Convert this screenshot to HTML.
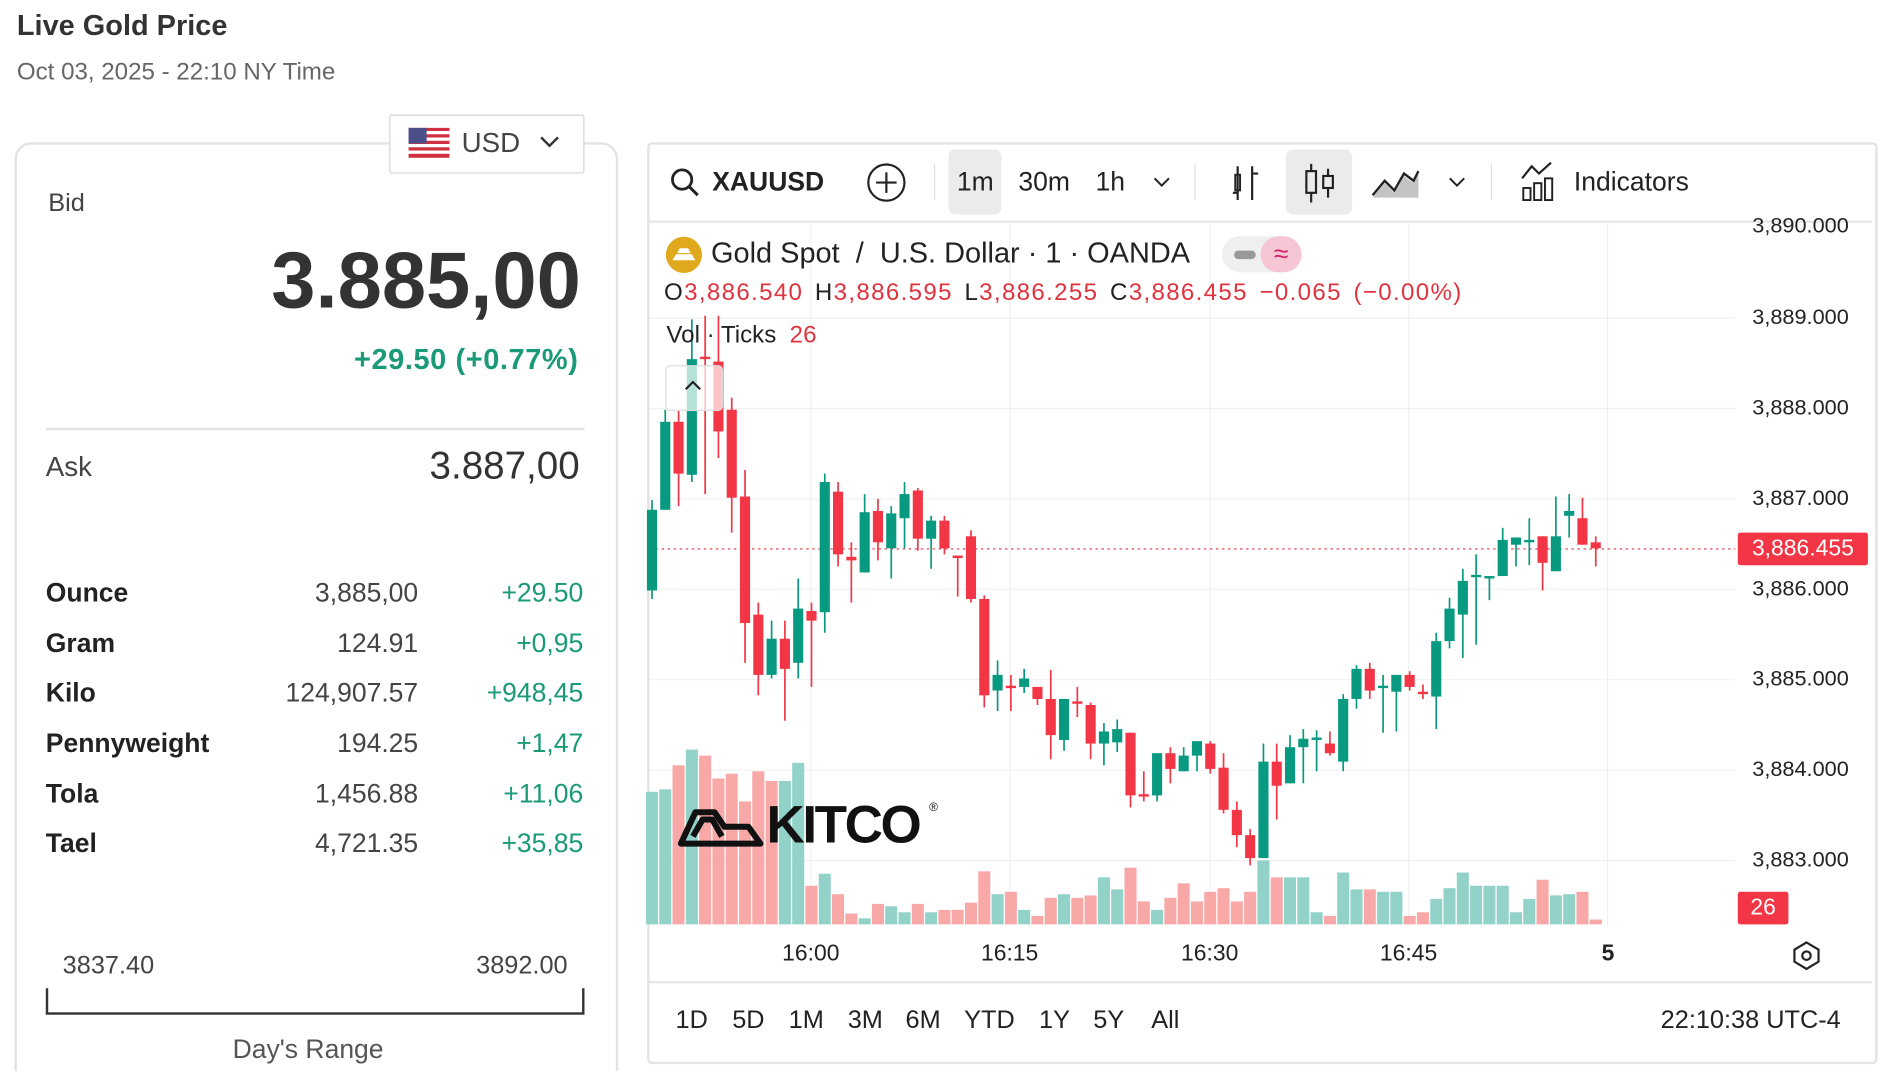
<!DOCTYPE html>
<html><head><meta charset="utf-8"><style>
html,body{margin:0;padding:0;background:#fff;width:1880px;height:1071px;overflow:hidden}
#w{position:absolute;left:0;top:0;width:1560px;height:889px;overflow:hidden;transform:scale(1.20513);transform-origin:0 0;font-family:"Liberation Sans",sans-serif;color:#333}
.a{position:absolute;white-space:nowrap}
.r{text-align:right}
.g{color:#1a9a78}
.row{font-size:22px;height:30px}
</style></head><body><div id="w">
<div class="a" style="left:14px;top:8px;font-size:24px;font-weight:bold;color:#333">Live Gold Price</div>
<div class="a" style="left:14px;top:49px;font-size:20px;color:#666">Oct 03, 2025 - 22:10 NY Time</div>
<div class="a" style="left:12px;top:118px;width:497px;height:800px;border:2px solid #e3e3e3;border-radius:14px"></div>
<div class="a" style="left:323px;top:95px;width:160px;height:47px;border:1.5px solid #d6d6d6;border-radius:2px;background:#fff"></div>
<svg class="a" style="left:339px;top:106px" width="34" height="25"><rect width="34" height="25" fill="#fff"/><g fill="#d03040"><rect y="0" width="34" height="2.7"/><rect y="5.4" width="34" height="2.7"/><rect y="10.8" width="34" height="2.7"/><rect y="16.2" width="34" height="2.7"/><rect y="21.6" width="34" height="3.4"/></g><rect width="15" height="13" fill="#4a4f8a"/></svg>
<div class="a" style="left:383px;top:105px;font-size:23px;color:#444">USD</div>
<svg class="a" style="left:447px;top:112px" width="18" height="12"><path d="M2 2l7 7 7-7" stroke="#333" stroke-width="2" fill="none"/></svg>
<div class="a" style="left:40px;top:157px;font-size:21px;color:#444">Bid</div>
<div class="a r" style="right:1078px;top:194px;font-size:66px;font-weight:bold;color:#333">3.885,00</div>
<div class="a r g" style="right:1080px;top:285px;font-size:24px;font-weight:bold;letter-spacing:0.5px">+29.50 (+0.77%)</div>
<div class="a" style="left:38px;top:355px;width:447px;height:2px;background:#e3e3e3"></div>
<div class="a" style="left:38px;top:374px;font-size:23px;color:#444">Ask</div>
<div class="a r" style="right:1079px;top:368px;font-size:32px;color:#333">3.887,00</div>
<div id="tbl"></div>
<div class="a" style="left:52px;top:790px;font-size:21px;color:#444">3837.40</div>
<div class="a r" style="right:1089px;top:790px;font-size:21px;color:#444">3892.00</div>
<div class="a" style="left:38px;top:840px;width:447px;height:2px;background:#333"></div>
<div class="a" style="left:38px;top:820px;width:2px;height:21px;background:#333"></div>
<div class="a" style="left:483px;top:820px;width:2px;height:21px;background:#333"></div>
<div class="a" style="left:193px;top:858px;font-size:22px;color:#555">Day's Range</div>

<div class="a" style="left:537px;top:118px;width:1017px;height:761px;border:2px solid #e3e3e3;border-radius:4px"></div>
<svg class="a" style="left:556px;top:139px" width="26" height="26"><circle cx="10" cy="10" r="8" stroke="#222" stroke-width="2.3" fill="none"/><path d="M16 16l7 7" stroke="#222" stroke-width="2.5"/></svg>
<div class="a" style="left:591px;top:138px;font-size:22px;font-weight:bold;color:#222">XAUUSD</div>
<svg class="a" style="left:719px;top:135px" width="33" height="33"><circle cx="16.5" cy="16.5" r="15" stroke="#222" stroke-width="1.8" fill="none"/><path d="M16.5 8v17M8 16.5h17" stroke="#222" stroke-width="1.8"/></svg>
<div class="a" style="left:775px;top:136px;width:1px;height:30px;background:#e0e0e0"></div>
<div class="a" style="left:787px;top:124px;width:44px;height:54px;background:#ebebeb;border-radius:6px"></div>
<div class="a" style="left:794px;top:138px;font-size:22px;color:#222">1m</div>
<div class="a" style="left:845px;top:138px;font-size:22px;color:#222">30m</div>
<div class="a" style="left:909px;top:138px;font-size:22px;color:#222">1h</div>
<svg class="a" style="left:956px;top:145px" width="16" height="12"><path d="M2 3l6 6 6-6" stroke="#222" stroke-width="1.6" fill="none"/></svg>
<div class="a" style="left:991px;top:136px;width:1px;height:30px;background:#e0e0e0"></div>
<svg class="a" style="left:1018px;top:136px" width="28" height="32"><path d="M9 2v28M21 2v28" stroke="#222" stroke-width="1.8" fill="none"/><path d="M5 24h4M21 8h5" stroke="#222" stroke-width="1.8"/><rect x="7" y="9" width="4" height="13" fill="none" stroke="#222" stroke-width="1.6"/></svg>
<div class="a" style="left:1067px;top:124px;width:55px;height:54px;background:#ebebeb;border-radius:6px"></div>
<svg class="a" style="left:1080px;top:134px" width="30" height="36"><path d="M8 2v32M22 6v24" stroke="#222" stroke-width="1.8"/><rect x="4" y="8" width="8" height="18" fill="#ebebeb" stroke="#222" stroke-width="1.8"/><rect x="18" y="12" width="8" height="10" fill="#ebebeb" stroke="#222" stroke-width="1.8"/></svg>
<svg class="a" style="left:1137px;top:136px" width="42" height="30"><path d="M2 26l10-12 8 8 8-14 8 6 4-8" stroke="#222" stroke-width="2" fill="none"/><path d="M2 28l10-12 8 8 8-14 8 6 4-8V28z" fill="#888" opacity=".5"/></svg>
<svg class="a" style="left:1201px;top:145px" width="16" height="12"><path d="M2 3l6 6 6-6" stroke="#222" stroke-width="1.6" fill="none"/></svg>
<div class="a" style="left:1237px;top:136px;width:1px;height:30px;background:#e0e0e0"></div>
<svg class="a" style="left:1261px;top:134px" width="32" height="34"><path d="M2 14l8-10 6 6 10-9" stroke="#222" stroke-width="1.8" fill="none"/><rect x="3" y="22" width="6" height="10" fill="none" stroke="#222" stroke-width="1.6"/><rect x="12" y="18" width="6" height="14" fill="none" stroke="#222" stroke-width="1.6"/><rect x="21" y="14" width="6" height="18" fill="none" stroke="#222" stroke-width="1.6"/></svg>
<div class="a" style="left:1306px;top:138px;font-size:22px;color:#222">Indicators</div>
<div class="a" style="left:539px;top:183px;width:1014px;height:2px;background:#e8e8e8"></div>

<svg class="a" id="ch" style="left:0;top:0" width="1560" height="889"></svg>

<svg class="a" style="left:552px;top:196px" width="31" height="31"><circle cx="15.5" cy="15.5" r="15" fill="#e0a81c"/><path d="M6 20h19l-3-5H9zM10 14h11l-2-4h-7z" fill="#fff"/></svg>
<div class="a" style="left:590px;top:197px;font-size:24px;color:#222">Gold Spot&nbsp; / &nbsp;U.S. Dollar · 1 · OANDA</div>
<div class="a" style="left:1014px;top:196px;width:66px;height:30px;background:#efefef;border-radius:15px"></div>
<div class="a" style="left:1024px;top:208px;width:18px;height:7px;background:#999;border-radius:4px"></div>
<div class="a" style="left:1046px;top:196px;width:34px;height:30px;background:#f6c6d5;border-radius:15px;color:#d0246a;font-size:22px;text-align:center;line-height:30px">≈</div>
<div class="a" style="left:551px;top:232px;font-size:20px;color:#222;letter-spacing:1.1px;word-spacing:3px">O<span style="color:#e0333f">3,886.540</span> H<span style="color:#e0333f">3,886.595</span> L<span style="color:#e0333f">3,886.255</span> C<span style="color:#e0333f">3,886.455</span> <span style="color:#e0333f">−0.065 (−0.00%)</span></div>
<div class="a" style="left:553px;top:267px;font-size:20px;color:#222">Vol · Ticks &nbsp;<span style="color:#e0333f">26</span></div>
<div class="a" style="left:552px;top:303px;width:46px;height:36px;border:1px solid #ddd;border-radius:4px;background:rgba(255,255,255,.7)"></div>
<svg class="a" style="left:566px;top:314px" width="18" height="12"><path d="M3 9l6-6 6 6" stroke="#222" stroke-width="1.8" fill="none"/></svg>
<svg class="a" style="left:561px;top:662px" width="75" height="42"><path d="M4 38h66l-10-14H40l-8-12H16L4 38z M14 32l8-14h8l8 14" stroke="#111" stroke-width="5" fill="none" stroke-linejoin="round"/></svg>
<div class="a" style="left:636px;top:660px;font-size:44px;font-weight:bold;color:#111;letter-spacing:-2px">KITCO</div>
<div class="a" style="left:771px;top:665px;font-size:10px;color:#111">®</div>
<div class="a" style="left:1442px;top:442px;width:108px;height:27px;background:#f23645;border-radius:2px;color:#fff;font-size:19px;text-align:center;line-height:27px">3,886.455</div>
<div class="a" style="left:1442px;top:740px;width:42px;height:27px;background:#f23645;border-radius:2px;color:#fff;font-size:19px;text-align:center;line-height:27px">26</div>
<div id="axis"></div>
<div class="a" style="left:539px;top:814px;width:1014px;height:2px;background:#e8e8e8"></div>
<div id="rng"></div>
<div class="a" style="left:1378px;top:835px;font-size:21px;color:#222">22:10:38 UTC-4</div>
<svg class="a" style="left:1486px;top:780px" width="26" height="26"><path d="M13 2l10 6v10l-10 6-10-6V8z" fill="none" stroke="#222" stroke-width="1.8"/><circle cx="13" cy="13" r="3.5" fill="none" stroke="#222" stroke-width="1.8"/></svg>
</div>
<script>
var h='';
var rows=[["Ounce","3,885,00","+29.50",493],["Gram","124.91","+0,95",535],["Kilo","124,907.57","+948,45",576],["Pennyweight","194.25","+1,47",618],["Tola","1,456.88","+11,06",660],["Tael","4,721.35","+35,85",701]];
rows.forEach(function(r){var t=r[3]-14;h+='<div class="a row" style="left:38px;top:'+t+'px;font-weight:bold;color:#222">'+r[0]+'</div><div class="a row r" style="right:1213px;top:'+t+'px;color:#444">'+r[1]+'</div><div class="a row r g" style="right:1076px;top:'+t+'px">'+r[2]+'</div>';});
document.getElementById('tbl').innerHTML=h;
var ax='';
[[188,"3,890.000"],[264,"3,889.000"],[339,"3,888.000"],[414,"3,887.000"],[489,"3,886.000"],[564,"3,885.000"],[639,"3,884.000"],[714,"3,883.000"]].forEach(function(p){ax+='<div class="a" style="left:1454px;top:'+(p[0]-11)+'px;font-size:18px;color:#222">'+p[1]+'</div>';});
[[673,"16:00"],[838,"16:15"],[1004,"16:30"],[1169,"16:45"]].forEach(function(p){ax+='<div class="a" style="left:'+(p[0]-24)+'px;top:781px;font-size:19px;color:#222">'+p[1]+'</div>';});
ax+='<div class="a" style="left:1329px;top:781px;font-size:19px;font-weight:bold;color:#222">5</div>';
document.getElementById('axis').innerHTML=ax;
var rg='';[[574,"1D"],[621,"5D"],[669,"1M"],[718,"3M"],[766,"6M"],[821,"YTD"],[875,"1Y"],[920,"5Y"],[967,"All"]].forEach(function(p){rg+='<div class="a" style="left:'+p[0]+'px;top:835px;font-size:21px;color:#222;transform:translateX(-50%)">'+p[1]+'</div>';});
document.getElementById('rng').innerHTML=rg;
var C=[[423,490,415,497,1],[350,423,340,423,1],[350,393,340,420,0],[298,394,265,400,1],[296,298,262,410,0],[300,358,262,380,0],[340,413,330,442,0],[412,517,390,550,0],[510,560,500,577,0],[530,560,515,563,1],[530,555,515,598,0],[505,550,480,563,1],[507,515,500,570,0],[400,508,393,525,1],[408,460,400,470,0],[462,465,450,500,0],[425,475,410,475,1],[424,450,414,465,0],[426,455,420,480,1],[410,430,400,455,1],[407,447,405,457,0],[432,447,428,472,1],[432,455,428,460,0],[461,463,462,495,0],[445,497,440,500,0],[497,577,494,587,0],[560,573,548,590,1],[569,571,560,590,0],[563,570,555,575,1],[570,580,570,585,0],[580,610,556,630,0],[580,614,580,623,1],[582,584,570,595,0],[585,617,583,630,0],[607,617,600,635,1],[605,616,597,624,1],[608,660,608,670,0],[659,661,640,665,0],[625,660,625,665,1],[625,638,620,650,0],[627,640,620,640,1],[615,627,615,640,1],[617,638,615,642,0],[637,672,625,675,0],[672,693,665,703,0],[693,712,688,718,0],[632,712,617,712,1],[632,652,617,680,0],[620,650,610,650,1],[613,620,605,650,1],[612,614,606,640,1],[617,625,607,627,0],[580,632,576,640,1],[555,580,552,588,1],[555,573,550,580,0],[569,571,560,608,1],[560,574,560,607,1],[560,570,557,573,0],[574,576,568,580,0],[532,578,525,605,1],[505,532,496,538,1],[482,510,472,546,1],[477,479,460,535,1],[478,480,478,498,1],[448,478,438,478,1],[446,452,446,470,1],[448,450,430,469,1],[445,467,445,490,0],[445,474,412,474,1],[424,428,410,446,1],[430,452,413,452,0],[450,455,445,470,0]];
var V=[657,655,635,622,627,646,642,665,640,648,648,633,735,725,742,758,762,750,752,757,750,757,755,755,749,723,742,740,755,760,745,742,745,743,728,738,720,748,755,745,733,748,740,737,748,740,714,728,728,728,757,760,724,738,738,740,740,760,757,746,737,724,735,735,735,757,746,730,743,742,740,763];
var vc=[1,1,0,1,0,0,0,0,0,0,1,1,0,1,0,0,1,0,1,1,0,1,0,0,0,0,1,0,1,0,0,1,0,0,1,1,0,0,1,0,0,0,0,0,0,0,1,0,1,1,1,0,1,1,0,1,1,0,0,1,1,1,1,1,1,1,1,0,1,1,0,0];
var s='';
[264,339,414,489,564,639,714].forEach(function(y){s+='<line x1="539" x2="1440" y1="'+y+'" y2="'+y+'" stroke="#f0f0f0" stroke-width="1"/>';});
[673,838,1004,1169,1334].forEach(function(x){s+='<line x1="'+x+'" x2="'+x+'" y1="185" y2="768" stroke="#f0f0f0" stroke-width="1"/>';});
for(var i=0;i<V.length;i++){var x=541+11.03*i;s+='<rect x="'+(x-5)+'" y="'+V[i]+'" width="10" height="'+(767-V[i])+'" fill="'+(vc[i]?'#92d2c8':'#f7a8a7')+'"/>';}
s+='<line x1="539" x2="1440" y1="455.5" y2="455.5" stroke="#e0333f" stroke-width="1" stroke-dasharray="2,3"/>';
for(var i=0;i<C.length;i++){var c=C[i],x=541+11.03*i,col=c[4]?'#089981':'#f23645';s+='<line x1="'+x+'" x2="'+x+'" y1="'+c[2]+'" y2="'+c[3]+'" stroke="'+col+'" stroke-width="1.4"/><rect x="'+(x-4.2)+'" y="'+c[0]+'" width="8.4" height="'+Math.max(2,c[1]-c[0])+'" fill="'+col+'"/>';}
document.getElementById('ch').innerHTML=s;
</script>
</body></html>
